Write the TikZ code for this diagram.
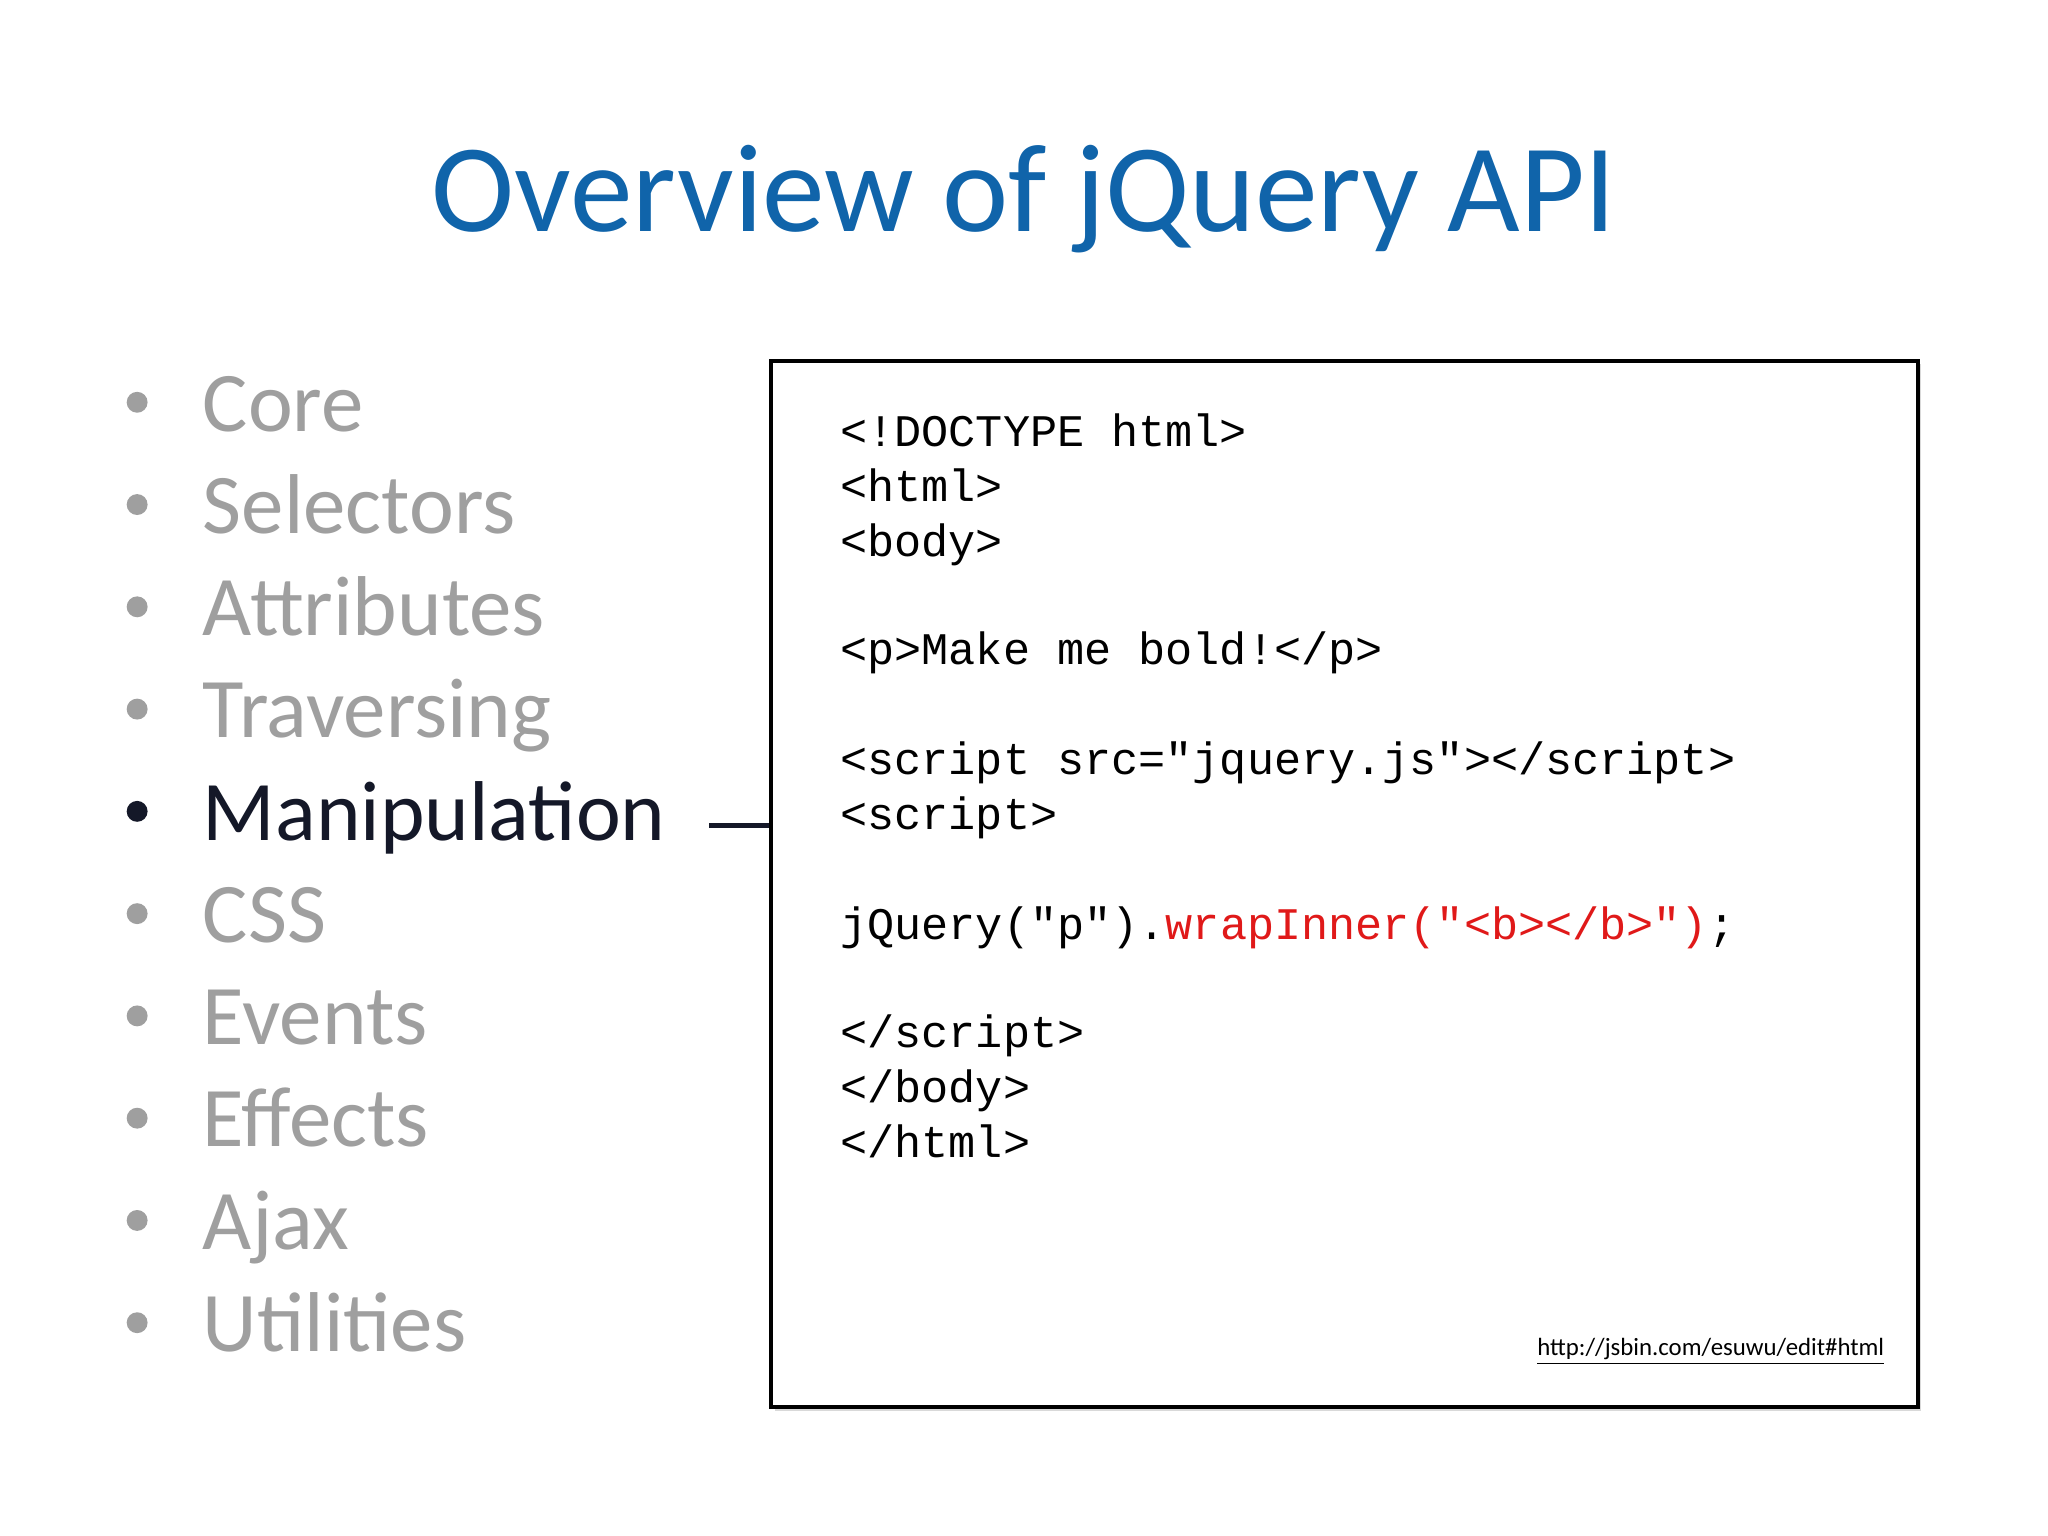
\documentclass[tikz,border=0pt]{standalone}
\usepackage{fontspec}
\setmainfont{Carlito}
\newfontfamily\codefont{Liberation Mono}
\begin{document}
\begin{tikzpicture}[x=0.5pt,y=-0.5pt,
  item/.style={anchor=base west,inner sep=0pt,font=\fontsize{32.5}{38}\selectfont,text=gray!75},
  dot/.style={circle,fill=gray!75,inner sep=0pt,minimum size=8pt},
  code/.style={anchor=base west,inner sep=0pt,font=\codefont\fontsize{17.3}{20}\selectfont}]
\useasboundingbox[fill=white] (0,0) rectangle (1568,1176);
\node[anchor=base,inner sep=0pt,text={rgb,255:red,16;green,100;blue,170},font=\fontsize{48}{58}\selectfont] (title) at (784,177) {Overview of jQuery API};
\foreach \t [count=\i] in {Core,Selectors,Attributes,Traversing,Manipulation,CSS,Events,Effects,Ajax,Utilities}{
  \pgfmathsetmacro\yy{330+(\i-1)*78.3}
  \ifnum\i=5
    \node[dot,fill={rgb,255:red,20;green,24;blue,40}] (b\i) at (105,\yy-22) {};
    \node[item,text={rgb,255:red,20;green,24;blue,40}] (t\i) at (155,\yy) {\t};
  \else
    \node[dot] (b\i) at (105,\yy-22) {};
    \node[item] (t\i) at (155,\yy) {\t};
  \fi
}
\fill[gray!30] (593,279) rectangle (1471,1080);
\node[draw=black,line width=1.5pt,fill=white,minimum width=439pt,minimum height=400.5pt,inner sep=0pt,anchor=north west] (box) at (589,275) {};
\coordinate (c1) at (543,632);
\draw[line width=2pt,color={rgb,255:red,20;green,24;blue,40}] (c1) -- (c1-|box.west);
\node[code] (l1) at (643,342) {<!DOCTYPE html>};
\node[code] (l2) at (643,384) {<html>};
\node[code] (l3) at (643,426) {<body>};
\node[code] (l4) at (643,509) {<p>Make me bold!</p>};
\node[code] (l5) at (643,593) {<script src="jquery.js"></script>};
\node[code] (l6) at (643,635) {<script>};
\node[code] (l7) at (643,719) {jQuery("p").\textcolor[rgb]{0.88,0.1,0.1}{wrapInner("<b></b>")};};
\node[code] (l8) at (643,802) {</script>};
\node[code] (l9) at (643,844) {</body>};
\node[code] (l10) at (643,886) {</html>};
\node[anchor=base east,inner sep=0pt,font=\fontsize{9.5}{11}\selectfont] (url) at (1443,1038) {\underline{http://jsbin.com/esuwu/edit\#html}};
\end{tikzpicture}
\end{document}
